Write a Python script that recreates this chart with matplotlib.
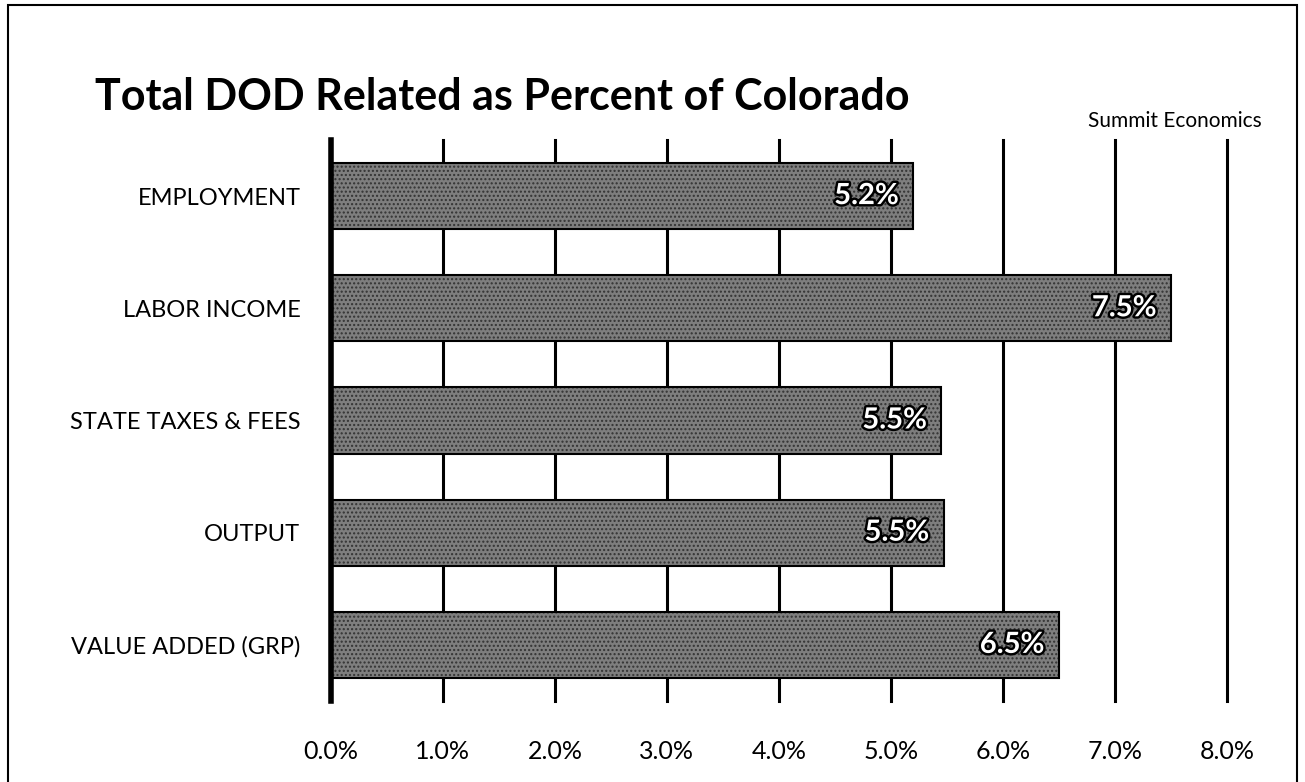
import matplotlib
matplotlib.use("Agg")
import matplotlib.pyplot as plt
import matplotlib.patheffects as pe
from matplotlib.patches import Rectangle

categories = ["EMPLOYMENT", "LABOR INCOME", "STATE TAXES & FEES", "OUTPUT", "VALUE ADDED (GRP)"]
values = [5.2, 7.5, 5.45, 5.47, 6.5]
value_labels = ["5.2%", "7.5%", "5.5%", "5.5%", "6.5%"]
xticks = [0, 1, 2, 3, 4, 5, 6, 7, 8]
xtick_labels = ["0.0%", "1.0%", "2.0%", "3.0%", "4.0%", "5.0%", "6.0%", "7.0%", "8.0%"]

plt.rcParams['font.family'] = ['Lato', 'DejaVu Sans']

fig = plt.figure(figsize=(13.05, 7.82), dpi=100)
ax = fig.add_axes([0.2536, 0.1036, 0.6866, 0.7174])

ypos = list(range(len(categories)))
ax.set_xlim(0, 8)
ax.set_ylim(len(categories) - 0.5, -0.5)

for x in xticks[1:]:
    ax.axvline(x, color='black', lw=2.2, zorder=1, clip_on=False)

bars = ax.barh(ypos, values, height=0.59, color='#7e7e7e', edgecolor='black',
               linewidth=1.5, hatch='....', zorder=2)
for b in bars:
    b._hatch_color = (0.2, 0.2, 0.2, 1.0)

for y, v, lab in zip(ypos, values, value_labels):
    ax.text(v - 0.13, y, lab, ha='right', va='center', fontsize=21, fontweight='bold',
            color='white', zorder=3,
            path_effects=[pe.withStroke(linewidth=3.5, foreground='black')])

ax.set_yticks(ypos)
ax.set_yticklabels(categories, fontsize=17)
ax.set_xticks(xticks)
ax.set_xticklabels(xtick_labels, fontsize=18)
ax.tick_params(axis='both', length=0)
ax.tick_params(axis='y', pad=22)
ax.tick_params(axis='x', pad=28)
for s in ['top', 'right', 'bottom']:
    ax.spines[s].set_visible(False)
ax.spines['left'].set_linewidth(4)
ax.spines['left'].set_zorder(4)

fig.text(0.073, 0.876, "Total DOD Related as Percent of Colorado", fontsize=31,
         fontweight='bold', ha='left', va='center')
fig.text(0.967, 0.845, "Summit Economics", fontsize=15, ha='right', va='center')

fig.patches.append(Rectangle((0.006, -0.01), 0.988, 1.003, transform=fig.transFigure,
                             fill=False, edgecolor='black', lw=1.5))

fig.savefig("out.png", dpi=100)
